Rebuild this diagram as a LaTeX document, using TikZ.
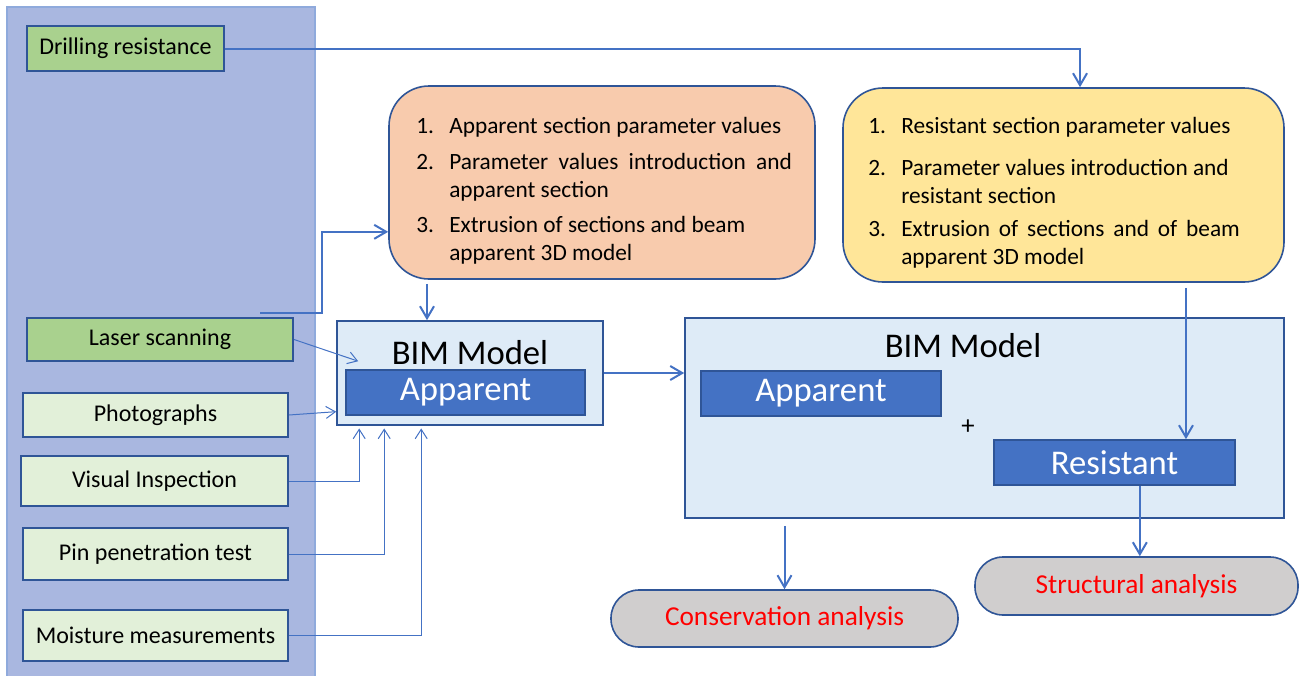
\documentclass[tikz,border=0pt]{standalone}
\usepackage{fontspec}
\setmainfont{Carlito}
\usepackage{xcolor}
\usepackage{tikz}
\usetikzlibrary{arrows.meta}

\definecolor{panelfill}{HTML}{A9B7E0}
\definecolor{panelline}{HTML}{8FAADC}
\definecolor{boxline}{HTML}{2F5597}
\definecolor{greenfill}{HTML}{A9D18E}
\definecolor{palegreen}{HTML}{E2F0D9}
\definecolor{orangefill}{HTML}{F8CBAD}
\definecolor{yellowfill}{HTML}{FFE699}
\definecolor{bimfill}{HTML}{DEEBF7}
\definecolor{bimblue}{HTML}{4472C4}
\definecolor{greyfill}{HTML}{D0CECE}

\tikzset{
  source/.style={draw=boxline, line width=1.5pt, inner sep=0pt, font=\fontsize{18}{21}\selectfont},
  listbox/.style={draw=boxline, line width=1.2pt, rounded corners=30pt, inner sep=0pt},
  listtext/.style={anchor=west, inner sep=0pt, font=\fontsize{17.5}{21}\selectfont},
  bimbox/.style={draw=boxline, line width=1.2pt, fill=bimfill, inner sep=0pt},
  partbox/.style={draw=boxline, line width=1.2pt, fill=bimblue, text=white, inner sep=0pt, font=\fontsize{26}{30}\selectfont},
  result/.style={draw=boxline, line width=1.2pt, fill=greyfill, text=red, rounded corners=21pt, inner sep=0pt, font=\fontsize{20.5}{24}\selectfont},
  flow/.style={draw=bimblue, line width=1.5pt, -{Straight Barb[length=9pt,width=10.5pt,line width=1.5pt]}},
  feed/.style={draw=bimblue, line width=0.75pt, -{Straight Barb[length=7pt,width=9pt]}},
}

\begin{document}
\begin{tikzpicture}[x=0.75pt,y=0.75pt,yscale=-1,xscale=1]
\useasboundingbox (0,0) rectangle (1299,675);

% Shape: Rectangle (inputs panel)
\draw [draw=panelline, fill=panelfill, line width=1pt] (7,7) rectangle (315,690);

% Input nodes
\node [source, fill=greenfill, minimum width=147.75pt, minimum height=33.75pt] (drill) at (125.5,48.5) {Drilling resistance};
\node [source, fill=greenfill, minimum width=199.5pt, minimum height=32.25pt] (laser) at (160,339.5) {Laser scanning};
\node [source, fill=palegreen, minimum width=198.75pt, minimum height=33pt] (photo) at (155.5,415) {Photographs};
\node [source, fill=palegreen, minimum width=200.25pt, minimum height=37.5pt] (visual) at (154.5,481) {Visual Inspection};
\node [source, fill=palegreen, minimum width=198.75pt, minimum height=39pt] (pin) at (155.5,554) {Pin penetration test};
\node [source, fill=palegreen, minimum width=198.75pt, minimum height=38.25pt] (moist) at (155.5,635.5) {Moisture measurements};

% Rounded boxes with the steps
\node [listbox, fill=orangefill, minimum width=319.5pt, minimum height=144.75pt] (orange) at (602,182.5) {};
\node [listbox, fill=yellowfill, minimum width=330.75pt, minimum height=145.5pt] (yellow) at (1063.5,185) {};

% Text Node
\node [listtext] (orangetext) at (416,191.5) {%
  \begin{tabular}{@{}p{24.75pt}@{}l@{}}
  1. & Apparent section parameter values \\[6pt]
  2. & \makebox[257pt][s]{Parameter values introduction and} \\
     & apparent section \\[5pt]
  3. & Extrusion of sections and beam \\
     & apparent 3D model
  \end{tabular}};
% Text Node
\node [listtext] (yellowtext) at (868,193.5) {%
  \begin{tabular}{@{}p{24.75pt}@{}l@{}}
  1. & Resistant section parameter values \\[10.5pt]
  2. & Parameter values introduction and \\
     & resistant section \\[4pt]
  3. & \makebox[254pt][s]{Extrusion of sections and of beam} \\
     & apparent 3D model
  \end{tabular}};

% BIM model (apparent)
\node [bimbox, minimum width=199.5pt, minimum height=78pt] (bimA) at (470,373) {};
\node [font=\fontsize{26}{30}\selectfont, inner sep=0pt] (titleA) at (470,353) {BIM Model};
\node [partbox, minimum width=179.25pt, minimum height=33.75pt] (appA) at (465.5,392.5) {Apparent};

% BIM model (apparent + resistant)
\node [bimbox, minimum width=449.25pt, minimum height=150pt] (bimB) at (984.5,418) {};
\node [font=\fontsize{26}{30}\selectfont, inner sep=0pt] (titleB) at (963,346) {BIM Model};
\node [partbox, minimum width=180pt, minimum height=33.75pt] (appB) at (821,393.5) {Apparent};
\node [font=\fontsize{20}{24}\selectfont, inner sep=0pt] (plus) at (968,427) {+};
\node [partbox, minimum width=180.75pt, minimum height=33.75pt] (resist) at (1114.5,462.5) {Resistant};

% Analyses
\node [result, minimum width=260.25pt, minimum height=42.75pt] (cons) at (784.5,618.5) {Conservation analysis};
\node [result, minimum width=242.25pt, minimum height=43.5pt] (struct) at (1136.5,586) {Structural analysis};

% Helper coordinates (yshift points down here, since yscale=-1)
\coordinate (drop) at ([xshift=-131.25pt,yshift=3pt]orange.south);
\coordinate (rdrop) at ([xshift=53.6pt]resist.north);
\coordinate (sdrop) at ([xshift=19pt]resist.south);
\coordinate (vin) at ([xshift=17.25pt,yshift=2pt]bimA.south west);
\coordinate (pinin) at ([xshift=36pt,yshift=2pt]bimA.south west);
\coordinate (mstin) at ([xshift=63.75pt,yshift=2pt]bimA.south west);
\path (rdrop |- yellow.south) ++(0,5) coordinate (rtop);
\path (cons.north |- bimB.south) ++(0,7) coordinate (ctop);

% Straight Lines
\draw [flow] (drill.east) -| ([xshift=12.4pt]yellow.north);
\draw [flow] ([xshift=75pt,yshift=-3pt]laser.north) -- ++(62,0) |- ([yshift=37pt]orange.west);
\draw [flow] (drop) -- (drop |- bimA.north);
\draw [feed] (laser.east) -- ([xshift=16.5pt,yshift=30.75pt]bimA.north west);
\draw [feed] (photo.east) -- ([yshift=29pt]bimA.west);
\draw [feed] (visual.east) -| (vin);
\draw [feed] (pin.east) -| (pinin);
\draw [feed] (moist.east) -| (mstin);
\draw [flow] (bimA.east) -- (bimA.east -| bimB.west);
\draw [flow] (rtop) -- (rdrop);
\draw [flow] (sdrop) -- (sdrop |- struct.north);
\draw [flow] (ctop) -- (cons.north);

\end{tikzpicture}
\end{document}
